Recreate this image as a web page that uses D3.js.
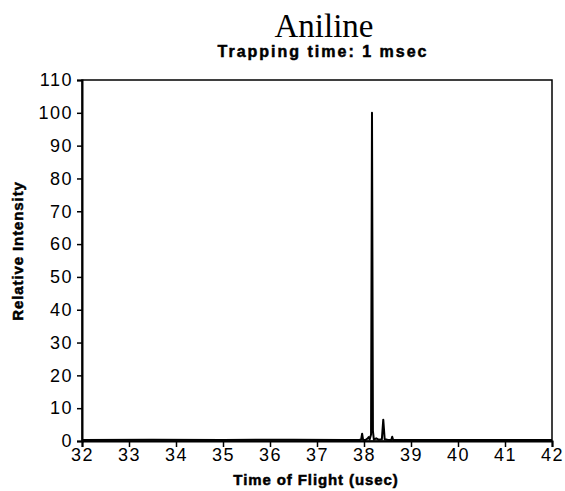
<!DOCTYPE html>
<html>
<head>
<meta charset="utf-8">
<script src="https://cdn.jsdelivr.net/npm/d3@7"></script>
<style>
  body { margin: 0; background: #fff; }
  svg text { fill: #000; }
</style>
</head>
<body>
<div id="chart"></div>
<script>
// Время пролёта (мкс) и относительная интенсивность
const timeOfFlight = [32.0, 33.5, 35.0, 36.5, 37.6, 37.9, 37.94, 37.96, 37.98, 38.03, 38.08, 38.1, 38.12,
  38.15, 38.17, 38.19, 38.21, 38.26, 38.31, 38.38, 38.41, 38.44, 38.5, 38.58, 38.6, 38.62, 38.75, 39.5, 41.0, 42.0];
const intensity = [0.3, 0.4, 0.3, 0.4, 0.3, 0.3, 0.5, 2.2, 0.4, 0.3, 0.8, 1.2, 0.5,
  2.0, 100, 3.0, 0.4, 0.8, 0.4, 0.5, 6.5, 0.5, 0.4, 0.3, 1.3, 0.3, 0.3, 0.3, 0.3, 0.3];
const xTicks = [32, 33, 34, 35, 36, 37, 38, 39, 40, 41, 42];
const yTicks = [0, 10, 20, 30, 40, 50, 60, 70, 80, 90, 100, 110];

const width = 565, height = 491;
const margin = { top: 80, right: 13, bottom: 50, left: 82 };

const svg = d3.select("#chart").append("svg")
    .attr("width", width)
    .attr("height", height);

const x = d3.scaleLinear().domain([32, 42]).range([margin.left, width - margin.right]);
const y = d3.scaleLinear().domain([0, 110]).range([height - margin.bottom, margin.top]);

// Рамка графика
svg.append("rect")
    .attr("x", x(32)).attr("y", y(110))
    .attr("width", x(42) - x(32)).attr("height", y(0) - y(110))
    .attr("fill", "none").attr("stroke", "#000").attr("stroke-width", 1.5);

// Оси
const xAxis = svg.append("g")
    .attr("transform", `translate(0,${y(0)})`)
    .call(d3.axisBottom(x).tickValues(xTicks).tickSize(6).tickPadding(1).tickFormat(d3.format("d")));
const yAxis = svg.append("g")
    .attr("transform", `translate(${x(32)},0)`)
    .call(d3.axisLeft(y).tickValues(yTicks).tickSize(5).tickPadding(4).tickFormat(d3.format("d")));

[xAxis, yAxis].forEach(g => {
    g.select(".domain").attr("stroke-width", 2);
    g.selectAll(".tick line").attr("stroke-width", 1.5);
    g.selectAll("text")
        .attr("font-family", "Liberation Sans, Arial, sans-serif")
        .attr("font-size", 18)
        .attr("letter-spacing", 1.5);
});

// Спектр
const line = d3.line()
    .x((d, i) => x(timeOfFlight[i]))
    .y(d => y(d));
svg.append("path")
    .datum(intensity)
    .attr("d", line)
    .attr("fill", "none")
    .attr("stroke", "#000")
    .attr("stroke-width", 2)
    .attr("stroke-linejoin", "round");

// Заголовки
svg.append("text")
    .attr("x", 324).attr("y", 37)
    .attr("text-anchor", "middle")
    .attr("font-family", "Liberation Serif, Times New Roman, serif")
    .attr("font-size", 33)
    .text("Aniline");

const boldText = (tx, ty, rot, txt) => svg.append("text")
    .attr("transform", `translate(${tx},${ty}) rotate(${rot})`)
    .attr("text-anchor", "middle")
    .attr("font-family", "Liberation Sans, Arial, sans-serif")
    .attr("font-weight", "bold")
    .attr("font-size", 15)
    .attr("letter-spacing", 0.9)
    .attr("stroke", "#000")
    .attr("stroke-width", 0.5)
    .text(txt);

boldText(323, 57, 0, "Trapping time: 1 msec").attr("font-size", 16).attr("letter-spacing", 2);
boldText(316, 485, 0, "Time of Flight (usec)");
boldText(23, 251, -90, "Relative Intensity");
</script>
</body>
</html>
